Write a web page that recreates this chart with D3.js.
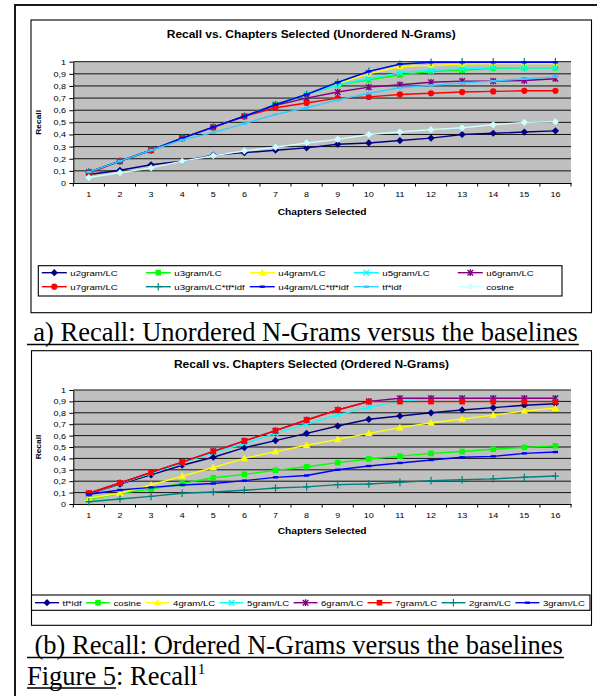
<!DOCTYPE html>
<html>
<head>
<meta charset="utf-8">
<script src="https://cdn.jsdelivr.net/npm/d3@7"></script>
<style>
  body { margin: 0; background: #fff; }
  text { font-family: "Liberation Sans", Arial, sans-serif; }
  .cap { font-family: "Liberation Serif", "Times New Roman", serif; }
</style>
</head>
<body>
<svg id="fig" width="597" height="696"></svg>
<script>

// ---- data ----
let chapters = [1, 2, 3, 4, 5, 6, 7, 8, 9, 10, 11, 12, 13, 14, 15, 16];
let yTicks = [0, 0.1, 0.2, 0.3, 0.4, 0.5, 0.6, 0.7, 0.8, 0.9, 1];
let yTickLabels = ['0', '0,1', '0,2', '0,3', '0,4', '0,5', '0,6', '0,7', '0,8', '0,9', '1'];

// (a) unordered n-grams
let unorderedNames = ['u2gram/LC', 'u3gram/LC', 'u4gram/LC', 'u5gram/LC', 'u6gram/LC',
  'u7gram/LC', 'u3gram/LC*tf*idf', 'u4gram/LC*tf*idf', 'tf*idf', 'cosine'];
let u2gramLC = [0.07, 0.105, 0.15, 0.18, 0.23, 0.25, 0.27, 0.29, 0.32, 0.33, 0.35, 0.37, 0.40, 0.41, 0.42, 0.43];
let u3gramLC = [0.09, 0.18, 0.27, 0.37, 0.46, 0.55, 0.65, 0.73, 0.81, 0.85, 0.89, 0.92, 0.93, 0.945, 0.95, 0.95];
let u4gramLC = [0.09, 0.18, 0.27, 0.37, 0.46, 0.55, 0.645, 0.73, 0.82, 0.90, 0.96, 0.97, 0.98, 0.985, 0.985, 0.985];
let u5gramLC = [0.09, 0.18, 0.27, 0.37, 0.46, 0.55, 0.645, 0.73, 0.81, 0.86, 0.91, 0.93, 0.94, 0.95, 0.95, 0.95];
let u6gramLC = [0.09, 0.18, 0.27, 0.37, 0.46, 0.55, 0.64, 0.70, 0.75, 0.79, 0.81, 0.83, 0.84, 0.84, 0.845, 0.86];
let u7gramLC = [0.08, 0.18, 0.27, 0.37, 0.46, 0.55, 0.62, 0.66, 0.70, 0.71, 0.73, 0.74, 0.75, 0.755, 0.76, 0.76];
let u3gramLCtfidf = [0.09, 0.18, 0.27, 0.37, 0.46, 0.55, 0.645, 0.73, 0.83, 0.92, 0.98, 0.995, 1, 1, 1, 1];
let u4gramLCtfidf = [0.09, 0.18, 0.27, 0.37, 0.46, 0.55, 0.645, 0.73, 0.83, 0.92, 0.98, 0.995, 0.995, 0.995, 0.995, 0.995];
let tfidfU = [0.09, 0.18, 0.27, 0.355, 0.415, 0.49, 0.565, 0.62, 0.685, 0.74, 0.785, 0.805, 0.825, 0.84, 0.86, 0.875];
let cosineU = [0.045, 0.085, 0.125, 0.18, 0.225, 0.265, 0.295, 0.33, 0.36, 0.40, 0.42, 0.44, 0.455, 0.48, 0.50, 0.505];

// (b) ordered n-grams
let orderedNames = ['tf*idf', 'cosine', '4gram/LC', '5gram/LC', '6gram/LC', '7gram/LC', '2gram/LC', '3gram/LC'];
let tfidfO = [0.088, 0.175, 0.255, 0.34, 0.41, 0.495, 0.556, 0.62, 0.684, 0.743, 0.772, 0.80, 0.825, 0.845, 0.866, 0.88];
let cosineO = [0.04, 0.094, 0.13, 0.18, 0.23, 0.26, 0.295, 0.327, 0.363, 0.395, 0.42, 0.444, 0.46, 0.48, 0.497, 0.51];
let gram4LC = [0.05, 0.094, 0.167, 0.245, 0.32, 0.40, 0.46, 0.515, 0.567, 0.62, 0.67, 0.713, 0.746, 0.78, 0.816, 0.84];
let gram5LC = [0.09, 0.18, 0.27, 0.36, 0.45, 0.53, 0.62, 0.70, 0.78, 0.85, 0.90, 0.927, 0.927, 0.927, 0.927, 0.927];
let gram6LC = [0.094, 0.184, 0.278, 0.368, 0.462, 0.553, 0.643, 0.737, 0.825, 0.90, 0.927, 0.927, 0.927, 0.927, 0.927, 0.927];
let gram7LC = [0.094, 0.184, 0.278, 0.368, 0.462, 0.553, 0.643, 0.737, 0.825, 0.898, 0.898, 0.898, 0.898, 0.898, 0.898, 0.898];
let gram2LC = [0.02, 0.044, 0.067, 0.094, 0.105, 0.12, 0.14, 0.15, 0.17, 0.175, 0.19, 0.205, 0.213, 0.22, 0.234, 0.245];
let gram3LC = [0.085, 0.123, 0.146, 0.167, 0.18, 0.205, 0.234, 0.25, 0.30, 0.333, 0.36, 0.386, 0.41, 0.418, 0.444, 0.456];

// ---- styles ----
let unorderedColors = ['#000080', '#00ff00', '#ffff00', '#00ffff', '#800080', '#ff0000', '#008080', '#0000ff', '#33ccff', '#ccffff'];
let unorderedMarkers = ['diamond', 'square', 'triangle', 'x', 'star', 'circle', 'plus', 'dash', 'dash', 'diamond'];
let orderedColors = ['#000080', '#00ff00', '#ffff00', '#00ffff', '#800080', '#ff0000', '#008080', '#0000ff'];
let orderedMarkers = ['diamond', 'square', 'triangle', 'x', 'star', 'square', 'plus', 'dash'];

let SX = 1.2; // excel text in the picture is a little wider than it is tall

let svg = d3.select('#fig');

// outer frame, only top & left edges are inside the window
svg.append('rect')
    .attr('x', 15).attr('y', 5)
    .attr('width', 640).attr('height', 720)
    .attr('fill', 'none')
    .attr('stroke', '#000')
    .attr('stroke-width', 1.8)
;

function stretchText(parent, txt, x, y, size, weight, anchor) {
  return parent.append('text')
      .attr('transform', 'translate(' + x + ',' + y + ') scale(' + SX + ',1)')
      .attr('font-size', size)
      .attr('font-weight', weight)
      .attr('text-anchor', anchor)
      .attr('fill', '#000')
      .text(txt);
}

function marker(sel, type, color) {
  if (type == 'diamond') {
    sel.append('path').attr('d', 'M0,-3.6L3.6,0L0,3.6L-3.6,0Z').attr('fill', color);
  }
  if (type == 'square') {
    sel.append('rect').attr('x', -2.8).attr('y', -2.8).attr('width', 5.6).attr('height', 5.6).attr('fill', color);
  }
  if (type == 'triangle') {
    sel.append('path').attr('d', 'M0,-3.8L3.8,2.8L-3.8,2.8Z').attr('fill', color);
  }
  if (type == 'circle') {
    sel.append('circle').attr('r', 3.1).attr('fill', color);
  }
  if (type == 'x') {
    sel.append('path').attr('d', 'M-2.8,-2.8L2.8,2.8M-2.8,2.8L2.8,-2.8')
        .attr('stroke', color).attr('stroke-width', 1.4);
  }
  if (type == 'star') {
    sel.append('path').attr('d', 'M-2.8,-2.8L2.8,2.8M-2.8,2.8L2.8,-2.8M0,-3.4L0,3.4')
        .attr('stroke', color).attr('stroke-width', 1.4);
  }
  if (type == 'plus') {
    sel.append('path').attr('d', 'M-3.4,0L3.4,0M0,-3.8L0,3.8')
        .attr('stroke', color).attr('stroke-width', 1.2);
  }
  if (type == 'dash') {
    sel.append('path').attr('d', 'M-2.6,0L2.6,0')
        .attr('stroke', color).attr('stroke-width', 2.4);
  }
}

function drawChart(c) {
  let g = svg.append('g');

  // chart frame
  g.append('rect')
      .attr('x', c.box[0]).attr('y', c.box[1])
      .attr('width', c.box[2] - c.box[0])
      .attr('height', c.box[3] - c.box[1])
      .attr('fill', '#fff')
      .attr('stroke', '#000')
      .attr('stroke-width', 1.1)
  ;

  let x = d3.scaleBand().domain(chapters).range([c.left, c.right]);
  let y = d3.scaleLinear().domain([0, 1]).range([c.bottom, c.top]);

  // plot area
  g.append('rect')
      .attr('x', c.left).attr('y', c.top)
      .attr('width', c.right - c.left)
      .attr('height', c.bottom - c.top)
      .attr('fill', '#c0c0c0')
  ;

  g.selectAll('.grid').data(yTicks.slice(1)).enter()
    .append('line')
      .attr('class', 'grid')
      .attr('x1', c.left).attr('x2', c.right)
      .attr('y1', function(d){ return y(d); })
      .attr('y2', function(d){ return y(d); })
      .attr('stroke', '#111')
      .attr('stroke-width', 1)
  ;

  // y axis
  let yAxis = d3.axisLeft(y)
      .tickValues(yTicks)
      .tickFormat(function(d){ return yTickLabels[yTicks.indexOf(d)]; })
      .tickSize(4)
      .tickSizeOuter(0)
      .tickPadding(2);
  let ya = g.append('g')
      .attr('transform', 'translate(' + c.left + ',0)')
      .call(yAxis);
  ya.attr('font-family', null).attr('font-size', 7.5);
  ya.selectAll('text').attr('transform', 'scale(' + SX + ',1)');

  // x axis: labels in band centres, tick marks on band edges
  let xAxis = d3.axisBottom(x).tickSize(0).tickSizeOuter(0).tickPadding(9);
  let xa = g.append('g')
      .attr('transform', 'translate(0,' + c.bottom + ')')
      .call(xAxis);
  xa.attr('font-family', null).attr('font-size', 7.5);
  xa.selectAll('text').attr('transform', 'scale(' + SX + ',1)');
  xa.selectAll('.edge').data(d3.range(chapters.length + 1)).enter()
    .append('line')
      .attr('class', 'edge')
      .attr('x1', function(d){ return c.left + d * x.step(); })
      .attr('x2', function(d){ return c.left + d * x.step(); })
      .attr('y1', 0).attr('y2', 3.5)
      .attr('stroke', '#000')
  ;
  ya.select('.domain').attr('stroke', '#000');
  xa.select('.domain').attr('stroke', '#000');

  // series
  let line = d3.line()
      .x(function(d, i){ return x(chapters[i]) + x.bandwidth() / 2; })
      .y(function(d){ return y(d); });

  c.series.forEach(function(s, k) {
    g.append('path')
        .datum(s)
        .attr('d', line)
        .attr('fill', 'none')
        .attr('stroke', c.colors[k])
        .attr('stroke-width', 1.4)
    ;
    g.selectAll('.m' + k).data(s).enter()
      .append('g')
        .attr('class', 'm' + k)
        .attr('transform', function(d, i){
          return 'translate(' + (x(chapters[i]) + x.bandwidth() / 2) + ',' + y(d) + ')';
        })
        .each(function(){ marker(d3.select(this), c.markers[k], c.colors[k]); })
    ;
  });

  // titles
  stretchText(g, c.title, (c.box[0] + c.box[2]) / 2, c.titleY, 10, 'bold', 'middle');
  stretchText(g, 'Chapters Selected', (c.left + c.right) / 2, c.xTitleY, 8.5, 'bold', 'middle');
  g.append('text')
      .attr('transform', 'translate(41,' + ((c.top + c.bottom) / 2) + ') rotate(-90) scale(' + SX + ',1)')
      .attr('font-size', 7)
      .attr('font-weight', 'bold')
      .attr('text-anchor', 'middle')
      .text('Recall');

  return g;
}

function legendBox(g, lb) {
  g.append('rect')
      .attr('x', lb[0]).attr('y', lb[1])
      .attr('width', lb[2] - lb[0]).attr('height', lb[3] - lb[1])
      .attr('fill', '#fff')
      .attr('stroke', '#000')
      .attr('stroke-width', 1.1)
  ;
}

function legendEntry(g, name, color, type, lx, ly, len) {
  g.append('line')
      .attr('x1', lx).attr('x2', lx + len)
      .attr('y1', ly).attr('y2', ly)
      .attr('stroke', color)
      .attr('stroke-width', 1.4);
  marker(g.append('g').attr('transform', 'translate(' + (lx + len / 2) + ',' + ly + ')'), type, color);
  return stretchText(g, name, lx + len + 3.5, ly + 2.9, 8, 'normal', 'start');
}

// ---- (a) ----
let chartA = drawChart({
  box: [31, 20, 591.5, 312.7],
  left: 73.3, right: 571, top: 61.7, bottom: 183,
  title: 'Recall vs. Chapters Selected (Unordered N-Grams)',
  titleY: 37.9, xTitleY: 214.8,
  series: [u2gramLC, u3gramLC, u4gramLC, u5gramLC, u6gramLC, u7gramLC, u3gramLCtfidf, u4gramLCtfidf, tfidfU, cosineU],
  colors: unorderedColors,
  markers: unorderedMarkers
});

let lbA = [38.3, 265.7, 562, 296];
legendBox(chartA, lbA);
unorderedNames.forEach(function(n, k) {
  let col = k % 5;
  let row = Math.floor(k / 5);
  legendEntry(chartA, n, unorderedColors[k], unorderedMarkers[k],
    lbA[0] + 3.5 + col * 104, lbA[1] + 7 + row * 14, 25);
});

// ---- (b) ----
let chartB = drawChart({
  box: [31.5, 350.7, 591.5, 625.3],
  left: 73.3, right: 571, top: 390, bottom: 504,
  title: 'Recall vs. Chapters Selected (Ordered N-Grams)',
  titleY: 368, xTitleY: 534,
  series: [tfidfO, cosineO, gram4LC, gram5LC, gram6LC, gram7LC, gram2LC, gram3LC],
  colors: orderedColors,
  markers: orderedMarkers
});

let lbB = [31.5, 595, 590, 610.3];
legendBox(chartB, lbB);
// one row: measure the labels, then spread the gaps so the row fills the box
let probe = chartB.append('g');
let widths = orderedNames.map(function(n) {
  let t = stretchText(probe, n, 0, 0, 8, 'normal', 'start');
  let w = t.node().getComputedTextLength() * SX;
  return w;
});
probe.remove();
let rowStart = 35, rowEnd = 585, lineLen = 24;
let used = d3.sum(widths) + orderedNames.length * (lineLen + 3.5);
let gap = (rowEnd - rowStart - used) / (orderedNames.length - 1);
let cx = rowStart;
orderedNames.forEach(function(n, k) {
  legendEntry(chartB, n, orderedColors[k], orderedMarkers[k], cx, 602.7, lineLen);
  cx += lineLen + 3.5 + widths[k] + gap;
});

// ---- captions ----
function caption(txt, x, y, ulFrom) {
  let t = svg.append('text')
      .attr('class', 'cap')
      .attr('x', x).attr('y', y)
      .attr('font-size', 26.5)
      .attr('fill', '#000')
      .text(txt);
  let w = t.node().getComputedTextLength();
  svg.append('line')
      .attr('x1', ulFrom).attr('x2', x + w + 1)
      .attr('y1', y + 3.5).attr('y2', y + 3.5)
      .attr('stroke', '#000')
      .attr('stroke-width', 1.6);
}
caption('a) Recall: Unordered N-Grams versus the baselines', 33.3, 341, 27);
caption('(b) Recall: Ordered N-Grams versus the baselines', 34.5, 654, 27);

let fig = svg.append('text')
    .attr('class', 'cap')
    .attr('x', 27).attr('y', 684.5)
    .attr('font-size', 26.5)
    .attr('fill', '#000');
let figLabel = fig.append('tspan').text('Figure 5');
fig.append('tspan').text(': Recall');
fig.append('tspan').attr('dy', -11).attr('font-size', 15).text('1');
svg.append('line')
    .attr('x1', 27).attr('x2', 27 + figLabel.node().getComputedTextLength())
    .attr('y1', 688).attr('y2', 688)
    .attr('stroke', '#000')
    .attr('stroke-width', 1.6);

</script>
</body>
</html>
